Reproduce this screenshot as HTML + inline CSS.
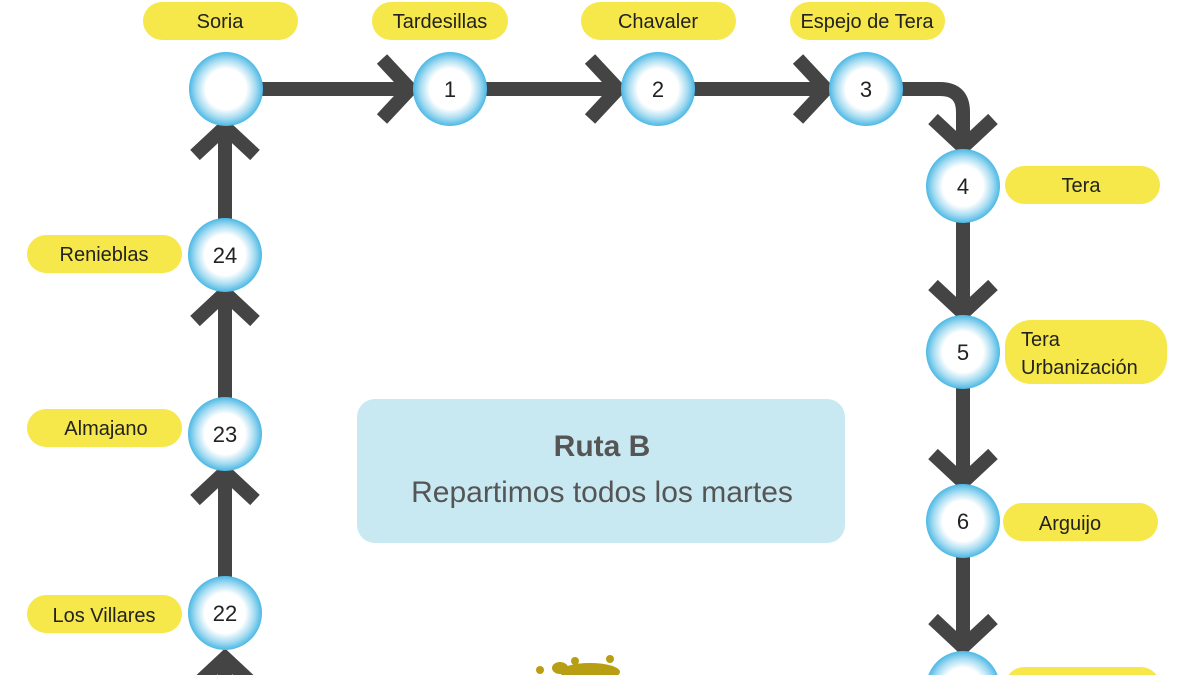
<!DOCTYPE html>
<html><head><meta charset="utf-8"><style>
html,body{margin:0;background:#fff;width:1200px;height:675px;overflow:hidden;}
svg{display:block;font-family:"Liberation Sans",sans-serif;}
</style></head><body>
<svg width="1200" height="675" viewBox="0 0 1200 675">
<defs>
<radialGradient id="g" cx="50%" cy="50%" r="50%">
<stop offset="0" stop-color="#fff"/><stop offset="0.55" stop-color="#fff"/><stop offset="0.8" stop-color="#a6dcf2"/><stop offset="1" stop-color="#4cb8e4"/>
</radialGradient>
</defs>
<g fill="#f6e84a">
<rect x="143" y="2" width="155" height="38" rx="19"/>
<rect x="372" y="2" width="136" height="38" rx="19"/>
<rect x="581" y="2" width="155" height="38" rx="19"/>
<rect x="790" y="2" width="155" height="38" rx="19"/>
<rect x="1005" y="166" width="155" height="38" rx="19"/>
<rect x="1005" y="320" width="162" height="64" rx="26"/>
<rect x="1003" y="503" width="155" height="38" rx="19"/>
<rect x="1005" y="667" width="155" height="38" rx="19"/>
<rect x="27" y="235" width="155" height="38" rx="19"/>
<rect x="27" y="409" width="155" height="38" rx="19"/>
<rect x="27" y="595" width="155" height="38" rx="19"/>
</g>
<g font-size="20" fill="#222" text-anchor="middle">
<text x="220" y="28">Soria</text>
<text x="440" y="28">Tardesillas</text>
<text x="658" y="28">Chavaler</text>
<text x="867" y="28">Espejo de Tera</text>
<text x="1081" y="192">Tera</text>
<text x="1070" y="530">Arguijo</text>
<text x="104" y="261">Renieblas</text>
<text x="106" y="435">Almajano</text>
<text x="104" y="622">Los Villares</text>
<text x="1021" y="346" text-anchor="start">Tera</text>
<text x="1021" y="374" text-anchor="start">Urbanización</text>
</g>
<rect x="357" y="399" width="488" height="144" rx="18" fill="#c9e9f2"/>
<text x="602" y="456" font-size="30" font-weight="bold" fill="#555" text-anchor="middle">Ruta B</text>
<text x="602" y="502" font-size="30" fill="#555" text-anchor="middle">Repartimos todos los martes</text>
<g stroke="#444" stroke-width="14" fill="none" stroke-linejoin="miter">
<line x1="260" y1="89" x2="410" y2="89"/>
<line x1="484" y1="89" x2="618" y2="89"/>
<line x1="692" y1="89" x2="826" y2="89"/>
<path d="M900 89 H940 Q963 89 963 112 V146"/>
<line x1="963" y1="220" x2="963" y2="312"/>
<line x1="963" y1="386" x2="963" y2="481"/>
<line x1="963" y1="555" x2="963" y2="646"/>
<line x1="225" y1="680" x2="225" y2="660"/>
<line x1="225" y1="577" x2="225" y2="473"/>
<line x1="225" y1="398" x2="225" y2="293"/>
<line x1="225" y1="219" x2="225" y2="128"/>
<polyline points="382,59 410,89 382,119"/>
<polyline points="590,59 618,89 590,119"/>
<polyline points="798,59 826,89 798,119"/>
<polyline points="933,119 963,147 993,119"/>
<polyline points="933,285 963,313 993,285"/>
<polyline points="933,454 963,482 993,454"/>
<polyline points="933,619 963,647 993,619"/>
<polyline points="195,686 225,658 255,686"/>
<polyline points="195,500 225,472 255,500"/>
<polyline points="195,321 225,293 255,321"/>
<polyline points="195,155 225,127 255,155"/>
</g>
<g fill="url(#g)">
<circle cx="226" cy="89" r="37"/>
<circle cx="450" cy="89" r="37"/>
<circle cx="658" cy="89" r="37"/>
<circle cx="866" cy="89" r="37"/>
<circle cx="963" cy="186" r="37"/>
<circle cx="963" cy="352" r="37"/>
<circle cx="963" cy="521" r="37"/>
<circle cx="963" cy="688" r="37"/>
<circle cx="225" cy="255" r="37"/>
<circle cx="225" cy="434" r="37"/>
<circle cx="225" cy="613" r="37"/>
</g>
<g font-size="22" fill="#222" text-anchor="middle">
<text x="450" y="97">1</text>
<text x="658" y="97">2</text>
<text x="866" y="97">3</text>
<text x="963" y="194">4</text>
<text x="963" y="360">5</text>
<text x="963" y="529">6</text>
<text x="225" y="263">24</text>
<text x="225" y="442">23</text>
<text x="225" y="621">22</text>
</g>
<g fill="#b89e12">
<ellipse cx="590" cy="672" rx="30" ry="9"/>
<ellipse cx="560" cy="668" rx="8" ry="6"/>
<circle cx="575" cy="661" r="4"/>
<circle cx="610" cy="659" r="4"/>
<circle cx="540" cy="670" r="4"/>
</g>
</svg>
</body></html>
